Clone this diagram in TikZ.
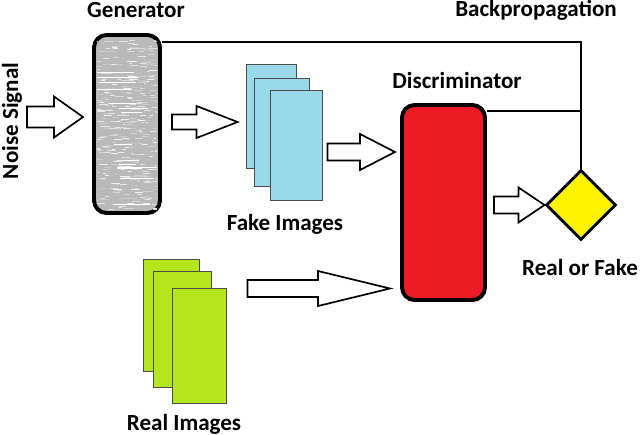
\documentclass[tikz,border=0pt]{standalone}
\usepackage{fontspec}
\setmainfont{Carlito}
\usetikzlibrary{shapes.geometric, calc}

\definecolor{discred}{RGB}{237,28,36}
\definecolor{judgeyellow}{RGB}{255,242,0}
\definecolor{fakeblue}{RGB}{153,217,234}
\definecolor{realgreen}{RGB}{181,230,29}

\begin{document}
\begin{tikzpicture}[x=0.025cm, y=-0.025cm,
    lbl/.style={font=\bfseries\fontsize{16.4}{18}\selectfont, inner sep=0pt},
    block/.style={draw, line width=2.8pt, rounded corners=9pt, inner sep=0pt},
    sheet/.style={draw=black!70, line width=0.6pt, inner sep=0pt},
    fatarrow/.style n args={3}{draw, line width=1.2pt, fill=white, line join=miter,
        to path={let \p1=(\tikztostart), \p2=(\tikztotarget) in
            ([shift={(0,#1)}]\x1,\y1) -- ([shift={(-#3,#1)}]\x2,\y1)
            -- ([shift={(-#3,#2)}]\x2,\y1) -- (\x2,\y1)
            -- ([shift={(-#3,-#2)}]\x2,\y1) -- ([shift={(-#3,-#1)}]\x2,\y1)
            -- ([shift={(0,-#1)}]\x1,\y1) -- cycle}}]
    \useasboundingbox (0,0) rectangle (640,435);

    % generator with a noisy grey texture
    \node[block, fill=gray!55, minimum width=1.65cm, minimum height=4.45cm] (gen) at (127,124) {};
    \pgfmathsetseed{7}
    \begin{scope}
        \clip (97,38) rectangle (157,210);
        \foreach \i in {1,...,500} {
            \pgfmathsetmacro{\ya}{38+172*rnd}
            \pgfmathsetmacro{\xa}{92+64*rnd}
            \pgfmathsetmacro{\len}{2+8*rnd}
            \pgfmathsetmacro{\shade}{int(10+50*rnd)}
            \draw[gray!\shade, line width=0.6pt] (\xa,\ya) -- ++(\len,0);
        }
        \foreach \i in {1,...,14} {
            \pgfmathsetmacro{\ya}{40+168*rnd}
            \pgfmathsetmacro{\xa}{95+30*rnd}
            \pgfmathsetmacro{\len}{15+30*rnd}
            \draw[white, line width=0.6pt] (\xa,\ya) -- ++(\len,0);
        }
    \end{scope}

    \node[block, fill=discred, minimum width=2.075cm, minimum height=4.875cm] (disc) at (443.5,202.5) {};
    \node[diamond, draw, line width=2.1pt, fill=judgeyellow, inner sep=0pt,
          minimum width=1.75cm, minimum height=1.75cm] (judge) at (581,205) {};

    % image stacks
    \node[sheet, fill=fakeblue, minimum width=1.25cm, minimum height=2.6cm] (fake1) at (271,116) {};
    \node[sheet, fill=fakeblue, minimum width=1.375cm, minimum height=2.7cm] (fake2) at (281.5,132) {};
    \node[sheet, fill=fakeblue, minimum width=1.3cm, minimum height=2.75cm] (fake3) at (296,145) {};
    \node[sheet, fill=realgreen, minimum width=1.4cm, minimum height=2.8cm] (real1) at (171,315) {};
    \node[sheet, fill=realgreen, minimum width=1.45cm, minimum height=2.9cm] (real2) at (182,329) {};
    \node[sheet, fill=realgreen, minimum width=1.35cm, minimum height=2.875cm] (real3) at (199,345.5) {};

    % labels
    \node[lbl] (genlbl) at (136,10) {Generator};
    \node[lbl] (bplbl) at (536,10) {Backpropagation};
    \node[lbl] (disclbl) at (457,80) {Discriminator};
    \node[lbl] (fakelbl) at (285,224) {Fake Images};
    \node[lbl] (rflbl) at (580,267) {Real or Fake};
    \node[lbl] (reallbl) at (184,424) {Real Images};
    \node[lbl, rotate=90] (noiselbl) at (12,121) {Noise Signal};

    % block arrows
    \coordinate (noise) at (27,117);
    \draw[fatarrow={10.5}{20.5}{29}] (noise) to ($(gen.west)+(-9,-7)$);
    \draw[fatarrow={7.5}{16}{41}] ($(gen.east)+(10,-2)$) to ($(fake1.west)+(-8,6)$);
    \draw[fatarrow={8.5}{18}{35}] ($(fake3.east)+(5,7)$) to ($(disc.west)+(-5,-50.5)$);
    \draw[fatarrow={8.5}{17.5}{26}] ($(disc.east |- judge.west)+(7,0)$) to (judge.west);
    \draw[fatarrow={8.5}{17.5}{72}] ($(real3.east)+(21,-57)$) to ($(disc.west)+(-10,86.5)$);

    % backpropagation lines
    \draw[line width=1.6pt] ($(gen.north east)+(0,9)$) -| (judge.north);
    \coordinate (bp) at ($(disc.north east)+(0,8)$);
    \draw[line width=1.6pt] (bp) -- (bp -| judge.north);
\end{tikzpicture}
\end{document}
